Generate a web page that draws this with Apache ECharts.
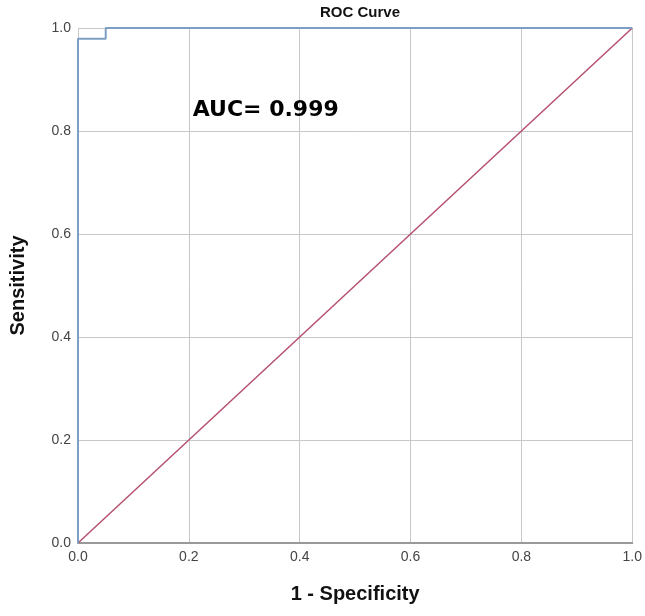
<!DOCTYPE html>
<html>
<head>
<meta charset="utf-8">
<script src="https://cdn.jsdelivr.net/npm/echarts@6/dist/echarts.min.js"></script>
<style>
  html, body { margin: 0; padding: 0; background: #fff; }
  #chart { width: 645px; height: 616px; }
</style>
</head>
<body>
<div id="chart"></div>
<script>
// ROC curve points (1 - specificity, sensitivity)
const rocFpr = [0, 0, 0.05, 0.05, 1];
const rocTpr = [0, 0.979, 0.979, 1, 1];
// reference line
const refFpr = [0, 1];
const refTpr = [0, 1];
const aucText = "AUC= 0.999";
const aucPos = [0.207, 0.84];

const chart = echarts.init(document.getElementById("chart"));

const axisCommon = {
  type: "value",
  min: 0,
  max: 1,
  interval: 0.2,
  nameLocation: "middle",
  nameTextStyle: {
    fontFamily: "Liberation Sans",
    fontWeight: "bold",
    fontSize: 20,
    color: "#111",
  },
  axisLabel: {
    fontFamily: "Liberation Sans",
    fontSize: 14,
    color: "#444",
    formatter: (v) => v.toFixed(1),
  },
  axisTick: { show: false },
  splitLine: { lineStyle: { color: "#c8c8c8", width: 1 } },
};

chart.setOption({
  animation: false,
  title: {
    text: "ROC Curve",
    left: 355,
    textAlign: "center",
    top: 0,
    textStyle: {
      fontFamily: "Liberation Sans",
      fontWeight: "bold",
      fontSize: 15,
      color: "#111",
    },
  },
  grid: { left: 78, right: 12, top: 28, bottom: 73 },
  xAxis: Object.assign({}, axisCommon, {
    name: "1 - Specificity",
    nameGap: 41,
    axisLine: { show: true, lineStyle: { color: "#999", width: 2 } },
    axisLabel: Object.assign({}, axisCommon.axisLabel, { margin: 7 }),
  }),
  yAxis: Object.assign({}, axisCommon, {
    name: "Sensitivity",
    nameGap: 50,
    axisLine: { show: false },
    axisLabel: Object.assign({}, axisCommon.axisLabel, { margin: 7 }),
  }),
  series: [
    {
      type: "line",
      data: refFpr.map((x, i) => [x, refTpr[i]]),
      symbol: "none",
      lineStyle: { color: "#b5506e", width: 1.5 },
      z: 3,
    },
    {
      type: "line",
      data: rocFpr.map((x, i) => [x, rocTpr[i]]),
      symbol: "none",
      lineStyle: { color: "#7d9fc4", width: 2 },
      z: 4,
    },
    {
      type: "scatter",
      data: [aucPos],
      symbolSize: 0,
      itemStyle: { opacity: 1 },
      label: {
        show: true,
        position: "right",
        distance: 0,
        formatter: aucText,
        fontFamily: "DejaVu Sans",
        fontWeight: "bold",
        fontSize: 22,
        color: "#000",
        opacity: 1,
      },
    },
  ],
});
</script>
</body>
</html>
